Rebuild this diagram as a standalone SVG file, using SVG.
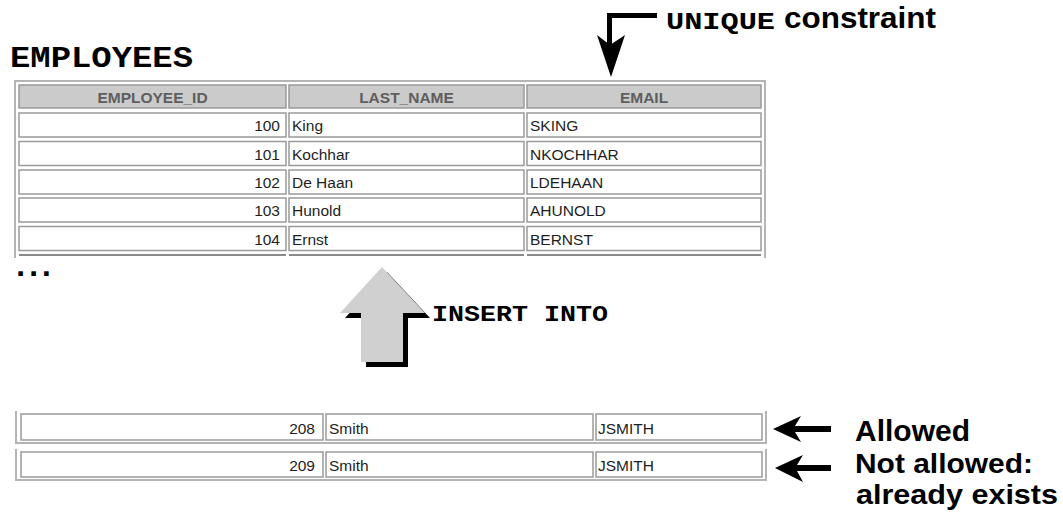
<svg xmlns="http://www.w3.org/2000/svg" width="1063" height="512" viewBox="0 0 1063 512">
<style>
.mono{font-family:"Liberation Mono","DejaVu Sans Mono",monospace;font-weight:bold;fill:#000}
.lbl{font-family:"Liberation Sans",Arial,sans-serif;font-weight:bold;fill:#000}
.hdr{fill:#cbcbcb;stroke:#9a9a9a;stroke-width:1.5}
.hdrt{font-family:"Liberation Sans",Arial,sans-serif;font-size:15.5px;font-weight:bold;fill:#5e5e5e;text-anchor:middle}
.cell{fill:#fff;stroke:#9a9a9a;stroke-width:1.5}
.outer{fill:none;stroke:#b4b4b4;stroke-width:2}
.dt{font-family:"Liberation Sans",Arial,sans-serif;font-size:15.5px;fill:#1e1e1e}
.num{text-anchor:end}
</style>

<g id="title">
<text class="mono" x="10" y="67" font-size="29" textLength="183" lengthAdjust="spacingAndGlyphs">EMPLOYEES</text>
</g>

<g id="employees-table">
<path class="outer" d="M15,258 V81 H765 V258"/>
<rect class="hdr" x="19" y="85" width="267" height="23"/>
<rect class="hdr" x="289" y="85" width="235" height="23"/>
<rect class="hdr" x="527" y="85" width="234" height="23"/>
<text class="hdrt" x="152.5" y="103">EMPLOYEE_ID</text>
<text class="hdrt" x="406.5" y="103">LAST_NAME</text>
<text class="hdrt" x="644" y="103">EMAIL</text>

<rect class="cell" x="19" y="113" width="267" height="24"/>
<rect class="cell" x="289" y="113" width="235" height="24"/>
<rect class="cell" x="527" y="113" width="234" height="24"/>
<text class="dt num" x="280" y="131">100</text>
<text class="dt" x="292" y="131">King</text>
<text class="dt" x="530" y="131">SKING</text>

<rect class="cell" x="19" y="141.5" width="267" height="24"/>
<rect class="cell" x="289" y="141.5" width="235" height="24"/>
<rect class="cell" x="527" y="141.5" width="234" height="24"/>
<text class="dt num" x="280" y="159.5">101</text>
<text class="dt" x="292" y="159.5">Kochhar</text>
<text class="dt" x="530" y="159.5">NKOCHHAR</text>

<rect class="cell" x="19" y="170" width="267" height="24"/>
<rect class="cell" x="289" y="170" width="235" height="24"/>
<rect class="cell" x="527" y="170" width="234" height="24"/>
<text class="dt num" x="280" y="188">102</text>
<text class="dt" x="292" y="188">De Haan</text>
<text class="dt" x="530" y="188">LDEHAAN</text>

<rect class="cell" x="19" y="198" width="267" height="24"/>
<rect class="cell" x="289" y="198" width="235" height="24"/>
<rect class="cell" x="527" y="198" width="234" height="24"/>
<text class="dt num" x="280" y="216">103</text>
<text class="dt" x="292" y="216">Hunold</text>
<text class="dt" x="530" y="216">AHUNOLD</text>

<rect class="cell" x="19" y="226.5" width="267" height="24"/>
<rect class="cell" x="289" y="226.5" width="235" height="24"/>
<rect class="cell" x="527" y="226.5" width="234" height="24"/>
<text class="dt num" x="280" y="244.5">104</text>
<text class="dt" x="292" y="244.5">Ernst</text>
<text class="dt" x="530" y="244.5">BERNST</text>

<path d="M19,255 H286 M289,255 H524 M527,255 H761" stroke="#8a8a8a" stroke-width="2" fill="none"/>
</g>

<g id="ellipsis">
<text class="mono" x="11" y="276" font-size="32" textLength="45" lengthAdjust="spacing">...</text>
</g>

<g id="unique-label">
<text class="mono" x="666" y="29" font-size="24" textLength="109" lengthAdjust="spacingAndGlyphs">UNIQUE</text>
<text class="lbl" x="784" y="28" font-size="29" textLength="152" lengthAdjust="spacingAndGlyphs">constraint</text>
</g>

<g id="insert-label">
<text class="mono" x="432" y="321" font-size="22" textLength="176" lengthAdjust="spacingAndGlyphs">INSERT INTO</text>
</g>

<g id="new-row-allowed">
<path class="outer" d="M16,411 V443 H766 V411"/>
<rect class="cell" x="21" y="414" width="302" height="26"/>
<rect class="cell" x="326" y="414" width="267" height="26"/>
<rect class="cell" x="596" y="414" width="166" height="26"/>
<text class="dt num" x="315" y="433.5">208</text>
<text class="dt" x="329" y="433.5">Smith</text>
<text class="dt" x="598" y="433.5">JSMITH</text>
</g>

<g id="new-row-rejected">
<path class="outer" d="M16,449 V480 H766 V449"/>
<rect class="cell" x="21" y="452" width="302" height="25"/>
<rect class="cell" x="326" y="452" width="267" height="25"/>
<rect class="cell" x="596" y="452" width="166" height="25"/>
<text class="dt num" x="315" y="471">209</text>
<text class="dt" x="329" y="471">Smith</text>
<text class="dt" x="598" y="471">JSMITH</text>
</g>

<g id="status-labels">
<text class="lbl" x="855" y="441" font-size="29" textLength="115" lengthAdjust="spacingAndGlyphs">Allowed</text>
<text class="lbl" x="855" y="472.5" font-size="28" textLength="178" lengthAdjust="spacingAndGlyphs">Not allowed:</text>
<text class="lbl" x="856" y="503.5" font-size="28" textLength="202" lengthAdjust="spacingAndGlyphs">already exists</text>
</g>

<g id="connectors">
<path d="M657,15.5 H609.5 V46" fill="none" stroke="#000" stroke-width="5" stroke-linejoin="miter"/>
<path d="M597,35 L610,45 L625,35 L611,77 Z" fill="#000"/>

<path d="M387,272 L430,318 L408,318 L408,367 L366,367 L366,318 L345,318 Z" fill="#000"/>
<path d="M382,267 L425,313 L403,313 L403,362 L361,362 L361,313 L340,313 Z" fill="#d0d0d0"/>

<path d="M773,429 L801,416 L795,426 L831,426 L831,432 L795,432 L801,442 Z" fill="#000"/>
<path d="M775,468 L803,455 L797,465 L831,465 L831,471 L797,471 L803,482 Z" fill="#000"/>
</g>
</svg>
